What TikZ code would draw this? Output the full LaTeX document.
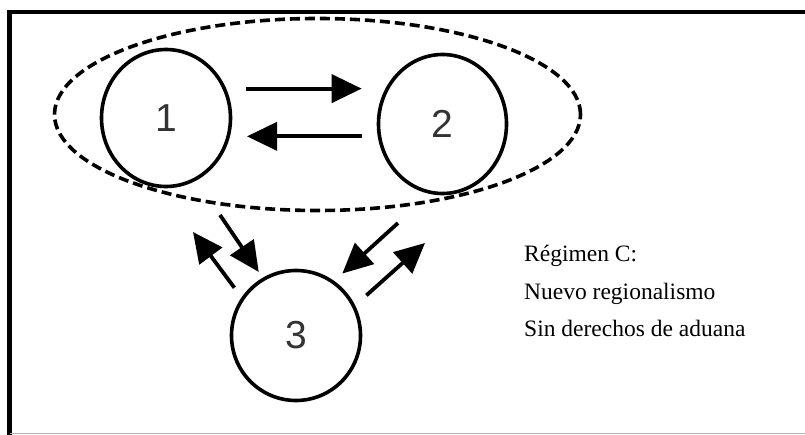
\documentclass[tikz,border=0pt]{standalone}
\usepackage{fontspec}
\setmainfont{Liberation Serif}
\newfontfamily\digitfont{Liberation Sans}
\usetikzlibrary{arrows.meta,shapes.geometric}
\begin{document}
\begin{tikzpicture}[x=1pt,y=-1pt,
		country/.style={draw,ellipse,line width=3.6pt,inner sep=0pt,
			font=\digitfont\fontsize{39}{39}\selectfont,text=black!80},
		flow/.style={line width=3.8pt,-{Triangle[length=30pt,width=28pt]}},
		note/.style={align=left,inner sep=0pt,font=\fontsize{23.5}{37}\selectfont}]
	\useasboundingbox (0,0) rectangle (805,435);
	% frame
	\draw[line width=4.5pt] (9.7,435)--(9.7,12)--(805,12);
	\draw[gray!60,line width=1.2pt] (9.7,433.5)--(805,433.5);
	\node[draw,ellipse,dashed,dash pattern=on 10pt off 5pt,line width=3.6pt,
		minimum width=526pt,minimum height=192pt] (region) at (317.5,114.5){};
	\node[country,minimum width=129pt,minimum height=137pt] (c1) at (166,118){1};
	\node[country,minimum width=128pt,minimum height=139pt] (c2) at (442.5,124){2};
	\node[country,minimum width=129pt,minimum height=130pt] (c3) at (296,335.5){3};
	\coordinate (a1) at (220,215);
	\coordinate (b1) at (193,232);
	\coordinate (a2) at (398,223);
	\coordinate (b2) at (425,243);
	\draw[flow,shorten <=20pt,shorten >=15pt] (c1.26)--(c1.26-|c2.west);
	\draw[flow,shorten <=15pt,shorten >=17pt] (c2.west|-c1.-16)--(c1.-16);
	\draw[flow,shorten >=7pt] (a1)--(c3.120);
	\draw[flow,shorten <=12pt] (c3.145)--(b1);
	\draw[flow,shorten >=11pt] (a2)--(c3.55);
	\draw[flow,shorten <=15pt] (c3.27)--(b2);
	\node[note,anchor=base west] (regimen) at (524,336){Régimen C:\\Nuevo regionalismo\\Sin derechos de aduana};
\end{tikzpicture}
\end{document}
